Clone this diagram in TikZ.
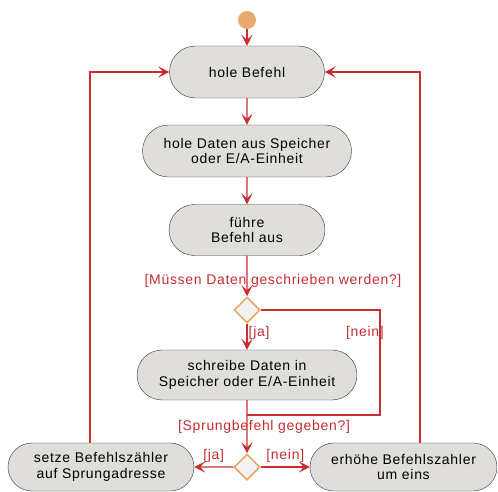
\documentclass[tikz,border=0pt]{standalone}
\usepackage{fontspec}
\setmainfont[LetterSpace=5]{Liberation Sans}
\usetikzlibrary{shapes.geometric, shapes.misc, arrows.meta}

\definecolor{flowred}{RGB}{200,45,50}
\definecolor{actgray}{RGB}{224,222,218}
\definecolor{startorange}{RGB}{234,170,110}
\definecolor{decorange}{RGB}{232,165,95}

\begin{document}
\begin{tikzpicture}[x=1pt, y=-1pt]
    \tikzset{
      action/.style={rounded rectangle, draw=black!80, thin, fill=actgray, align=center,
        font=\fontsize{14}{15.5}\selectfont, inner sep=0pt},
      decision/.style={diamond, draw=decorange, line width=1.5pt, fill=black!5, inner sep=0pt,
        minimum width=26pt, minimum height=26pt},
      start/.style={circle, fill=startorange, inner sep=0pt, minimum size=18pt},
      flowline/.style={draw=flowred, line width=1.4pt},
      flow/.style={flowline, -{Stealth[length=11pt, width=11pt, inset=5pt]}},
      guard/.style={text=flowred, font=\fontsize{14}{15.5}\selectfont, inner sep=1pt},
    }
    \useasboundingbox (0,0) rectangle (498,492);

    \node [start] (start) at (247,20) {};
    \node [action, minimum width=155pt, minimum height=52pt] (fetch) at (247,72) {hole Befehl};
    \node [action, minimum width=209pt, minimum height=52pt] (load) at (247,151)
      {hole Daten aus Speicher\\oder E/A-Einheit};
    \node [action, minimum width=156pt, minimum height=51pt] (exec) at (247,230) {führe\\Befehl aus};
    \node [decision] (write) at (247,310) {};
    \node [action, minimum width=220pt, minimum height=50pt] (store) at (247,375)
      {schreibe Daten in\\Speicher oder E/A-Einheit};
    \node [decision] (jump) at (247,467) {};
    \node [action, minimum width=186pt, minimum height=48pt] (setpc) at (101,467)
      {setze Befehlszähler\\auf Sprungadresse};
    \node [action, minimum width=187pt, minimum height=48pt] (incpc) at (403.5,467)
      {erhöhe Befehlszahler\\um eins};
    \coordinate (skip) at (380,415);

    \draw [flow] (start) -- (fetch);
    \draw [flow] (fetch) -- (load);
    \draw [flow] (load) -- (exec);
    \draw [flow] (exec) -- node [guard, pos=0.62, xshift=26pt] {[Müssen Daten geschrieben werden?]} (write);
    \draw [flow] (write) -- node [guard, right, pos=0.36] {[ja]} (store);
    \draw [flowline] (write.east) -| node [guard, pos=0.61, xshift=-15pt] {[nein]} (skip)
      -- (store.south |- skip);
    \draw [flow] (store) -- node [guard, pos=0.5, xshift=17pt] {[Sprungbefehl gegeben?]} (jump);
    \draw [flow] (jump) -- node [guard, above, yshift=3pt] {[ja]} (setpc);
    \draw [flow] (jump) -- node [guard, above, yshift=3pt] {[nein]} (incpc);
    \draw [flow] ([xshift=-11pt]setpc.north) |- (fetch.west);
    \draw [flow] ([xshift=16.5pt]incpc.north) |- (fetch.east);
\end{tikzpicture}
\end{document}
